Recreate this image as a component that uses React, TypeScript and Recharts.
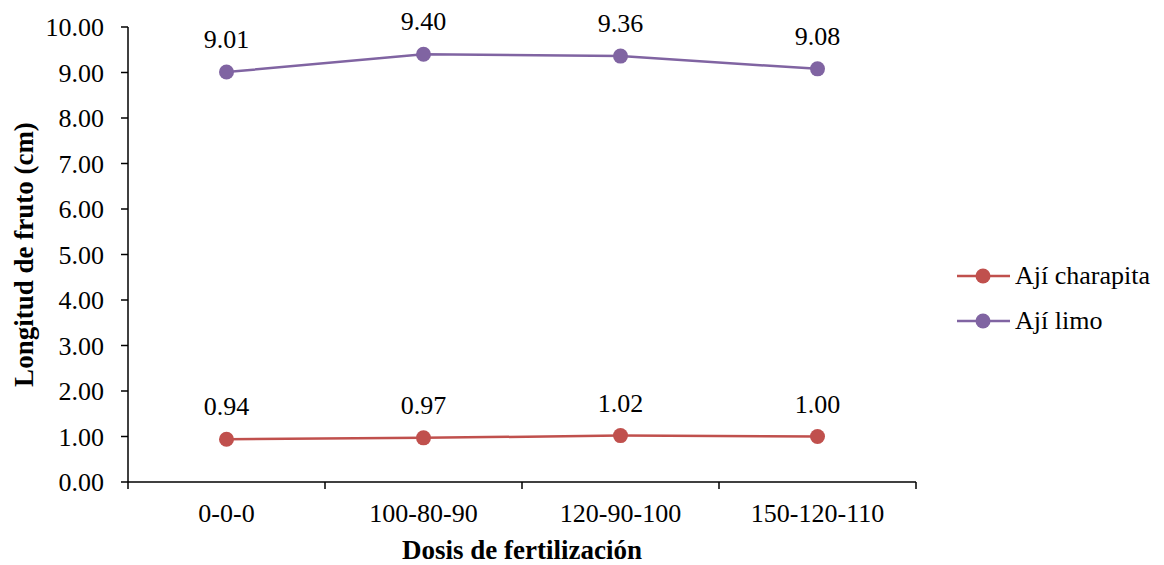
import React from 'react';
import { LineChart, Line, XAxis, YAxis, LabelList } from 'recharts';

const categories = ['0-0-0', '100-80-90', '120-90-100', '150-120-110'];
const charapita = [0.94, 0.97, 1.02, 1.0];
const limo = [9.01, 9.4, 9.36, 9.08];
const yTicks = [0, 1, 2, 3, 4, 5, 6, 7, 8, 9, 10];
const seriesNames = ['Ají charapita', 'Ají limo'];

const data = categories.map((c, i) => ({ name: c, charapita: charapita[i], limo: limo[i] }));

const FONT = '"Liberation Serif", "Times New Roman", serif';
const RED = '#C0504D';
const PURPLE = '#8064A2';

const XTick = (props: any) => {
  const { x, y, payload, index } = props;
  const off = payload.offset || 0;
  const axisY = y - 22;
  return (
    <g>
      <line x1={x - off} x2={x - off} y1={axisY} y2={axisY + 7} stroke="#000" strokeWidth={1.5} />
      {index === categories.length - 1 && (
        <line x1={x + off} x2={x + off} y1={axisY} y2={axisY + 7} stroke="#000" strokeWidth={1.5} />
      )}
      <text x={x} y={y} dy="0.71em" textAnchor="middle" fontSize={26} fontFamily={FONT} fill="#000">
        {payload.value}
      </text>
    </g>
  );
};

const makeLabel = () => (p: any) => {
  const { x, y, value } = p;
  return (
    <text x={x} y={y - 24} textAnchor="middle" fontSize={26} fontFamily={FONT} fill="#000">
      {Number(value).toFixed(2)}
    </text>
  );
};

const LegendBox = () => {
  const colors = [RED, PURPLE];
  return (
    <svg
      width={210}
      height={80}
      style={{ position: 'absolute', left: 955, top: 256, overflow: 'visible' }}
    >
      {seriesNames.map((label, i) => (
        <g key={i} transform={`translate(0, ${20 + i * 45})`}>
          <line x1={2} x2={55} y1={0} y2={0} stroke={colors[i]} strokeWidth={2.5} />
          <circle cx={28} cy={0} r={7.5} fill={colors[i]} />
          <text x={60} y={0} dy="0.3em" fontSize={26} fontFamily={FONT} fill="#000">
            {label}
          </text>
        </g>
      ))}
    </svg>
  );
};

export default function App() {
  return (
    <div
      style={{
        position: 'absolute',
        left: 0,
        top: 0,
        width: 1164,
        height: 565,
        background: '#fff',
        fontFamily: FONT,
      }}
    >
      <LineChart
        width={1164}
        height={565}
        data={data}
        margin={{ top: 27, right: 248, bottom: 0, left: 0 }}
      >
        <XAxis
          dataKey="name"
          scale="band"
          height={83}
          tickLine={false}
          tickSize={6}
          tickMargin={16}
          axisLine={{ stroke: '#000', strokeWidth: 1.5 }}
          tick={<XTick />}
          interval={0}
          label={{
            value: 'Dosis de fertilización',
            position: 'insideBottom',
            offset: 6,
            fontSize: 27,
            fontWeight: 'bold',
            fontFamily: FONT,
            fill: '#000',
          }}
        />
        <YAxis
          width={128}
          domain={[0, 10]}
          ticks={yTicks}
          interval={0}
          tickFormatter={(v: number) => v.toFixed(2)}
          tickSize={7}
          tickMargin={17}
          tickLine={{ stroke: '#000', strokeWidth: 1.5 }}
          axisLine={{ stroke: '#000', strokeWidth: 1.5 }}
          tick={{ fontSize: 26, fontFamily: FONT, fill: '#000' }}
          label={{
            value: 'Longitud de fruto (cm)',
            angle: -90,
            position: 'insideLeft',
            offset: 23,
            style: { textAnchor: 'middle' },
            fontSize: 27,
            fontWeight: 'bold',
            fontFamily: FONT,
            fill: '#000',
          }}
        />
        <Line
          dataKey="charapita"
          name={seriesNames[0]}
          stroke={RED}
          strokeWidth={2.5}
          dot={{ r: 7.5, fill: RED, stroke: RED, strokeWidth: 0 }}
          isAnimationActive={false}
        >
          <LabelList dataKey="charapita" content={makeLabel()} />
        </Line>
        <Line
          dataKey="limo"
          name={seriesNames[1]}
          stroke={PURPLE}
          strokeWidth={2.5}
          dot={{ r: 7.5, fill: PURPLE, stroke: PURPLE, strokeWidth: 0 }}
          isAnimationActive={false}
        >
          <LabelList dataKey="limo" content={makeLabel()} />
        </Line>
      </LineChart>
      <LegendBox />
    </div>
  );
}
